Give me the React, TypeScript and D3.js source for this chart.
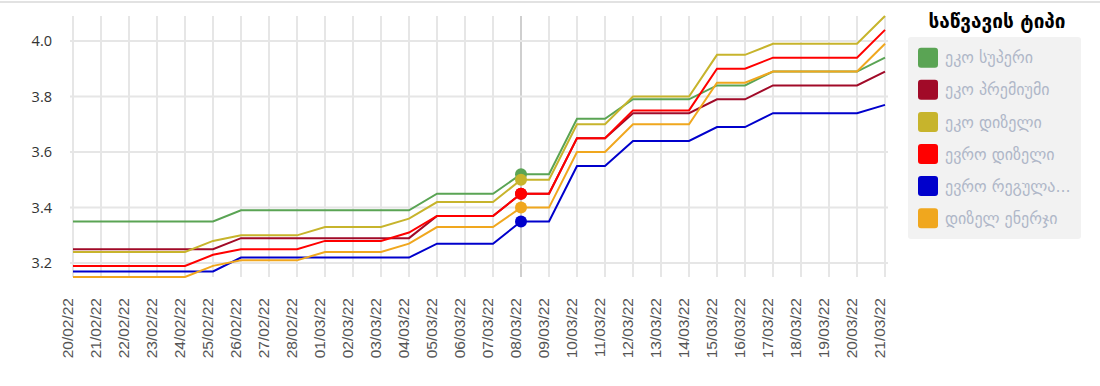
import { useEffect, useRef } from "react";
import * as d3 from "d3";

const dates = [
  "20/02/22", "21/02/22", "22/02/22", "23/02/22", "24/02/22", "25/02/22", "26/02/22", "27/02/22",
  "28/02/22", "01/03/22", "02/03/22", "03/03/22", "04/03/22", "05/03/22", "06/03/22", "07/03/22",
  "08/03/22", "09/03/22", "10/03/22", "11/03/22", "12/03/22", "13/03/22", "14/03/22", "15/03/22",
  "16/03/22", "17/03/22", "18/03/22", "19/03/22", "20/03/22", "21/03/22",
];

const ecoSuper = [
  3.35, 3.35, 3.35, 3.35, 3.35, 3.35, 3.39, 3.39, 3.39, 3.39, 3.39, 3.39, 3.39, 3.45, 3.45, 3.45,
  3.52, 3.52, 3.72, 3.72, 3.79, 3.79, 3.79, 3.84, 3.84, 3.89, 3.89, 3.89, 3.89, 3.94,
];
const ecoPremium = [
  3.25, 3.25, 3.25, 3.25, 3.25, 3.25, 3.29, 3.29, 3.29, 3.29, 3.29, 3.29, 3.29, 3.37, 3.37, 3.37,
  3.45, 3.45, 3.65, 3.65, 3.74, 3.74, 3.74, 3.79, 3.79, 3.84, 3.84, 3.84, 3.84, 3.89,
];
const ecoDiesel = [
  3.24, 3.24, 3.24, 3.24, 3.24, 3.28, 3.3, 3.3, 3.3, 3.33, 3.33, 3.33, 3.36, 3.42, 3.42, 3.42,
  3.5, 3.5, 3.7, 3.7, 3.8, 3.8, 3.8, 3.95, 3.95, 3.99, 3.99, 3.99, 3.99, 4.09,
];
const euroDiesel = [
  3.19, 3.19, 3.19, 3.19, 3.19, 3.23, 3.25, 3.25, 3.25, 3.28, 3.28, 3.28, 3.31, 3.37, 3.37, 3.37,
  3.45, 3.45, 3.65, 3.65, 3.75, 3.75, 3.75, 3.9, 3.9, 3.94, 3.94, 3.94, 3.94, 4.04,
];
const euroRegular = [
  3.17, 3.17, 3.17, 3.17, 3.17, 3.17, 3.22, 3.22, 3.22, 3.22, 3.22, 3.22, 3.22, 3.27, 3.27, 3.27,
  3.35, 3.35, 3.55, 3.55, 3.64, 3.64, 3.64, 3.69, 3.69, 3.74, 3.74, 3.74, 3.74, 3.77,
];
const dieselEnergy = [
  3.15, 3.15, 3.15, 3.15, 3.15, 3.19, 3.21, 3.21, 3.21, 3.24, 3.24, 3.24, 3.27, 3.33, 3.33, 3.33,
  3.4, 3.4, 3.6, 3.6, 3.7, 3.7, 3.7, 3.85, 3.85, 3.89, 3.89, 3.89, 3.89, 3.99,
];

const seriesNames = ["ეკო სუპერი", "ეკო პრემიუმი", "ეკო დიზელი", "ევრო დიზელი", "ევრო რეგულა...", "დიზელ ენერჯი"];
const seriesValues = [ecoSuper, ecoPremium, ecoDiesel, euroDiesel, euroRegular, dieselEnergy];
const colors = ["#5aa454", "#a10a28", "#c7b42c", "#ff0000", "#0000cc", "#f0a71e"];
const yTicks = [3.2, 3.4, 3.6, 3.8, 4.0];
const legendTitle = "საწვავის ტიპი";
const activeDate = "08/03/22";

const App = () => {
  const svgRef = useRef<SVGSVGElement>(null);

  useEffect(() => {
    const width = 1100, height = 386;
    const top = 16, bottom = 277, left = 73, right = 885;

    const svg = d3.select(svgRef.current);
    svg.selectAll("*").remove();
    svg.attr("width", width).attr("height", height);

    // thin separator at the very top of the page
    svg.append("rect").attr("x", 0).attr("y", 1).attr("width", width).attr("height", 2).attr("fill", "#e2e2e2");

    const allValues = seriesValues.flat();
    const x = d3.scalePoint().domain(dates).range([left, right]);
    const y = d3.scaleLinear().domain([d3.min(allValues), d3.max(allValues)]).range([bottom, top]);

    // grid
    const grid = svg.append("g");
    grid.selectAll("line.v")
      .data(dates)
      .enter()
      .append("line")
      .attr("x1", d => x(d)).attr("x2", d => x(d))
      .attr("y1", top).attr("y2", bottom)
      .attr("stroke", d => (d === activeDate ? "#cfcfcf" : "#e6e6e6"))
      .attr("stroke-width", 2);

    grid.selectAll("line.h")
      .data(yTicks)
      .enter()
      .append("line")
      .attr("x1", left - 3).attr("x2", right + 3)
      .attr("y1", d => y(d)).attr("y2", d => y(d))
      .attr("stroke", "#e6e6e6")
      .attr("stroke-width", 2);

    // y labels
    svg.append("g")
      .selectAll("text")
      .data(yTicks)
      .enter()
      .append("text")
      .attr("x", 52)
      .attr("y", d => y(d))
      .attr("dy", "0.35em")
      .attr("text-anchor", "end")
      .attr("font-family", "'Open Sans', sans-serif")
      .attr("font-size", 14.5)
      .attr("fill", "#333")
      .text(d => d3.format(".1f")(d));

    // x labels, rotated
    svg.append("g")
      .selectAll("text")
      .data(dates)
      .enter()
      .append("text")
      .attr("transform", d => `translate(${x(d)},298) rotate(-90)`)
      .attr("text-anchor", "end")
      .attr("font-family", "'Liberation Sans', Arial, sans-serif")
      .attr("font-size", 15.5)
      .attr("fill", "#555")
      .text(d => d);

    // lines
    const line = d3.line<number>()
      .x((_, i) => x(dates[i]))
      .y(d => y(d));

    seriesValues.forEach((vals, s) => {
      svg.append("path")
        .datum(vals)
        .attr("d", line)
        .attr("fill", "none")
        .attr("stroke", colors[s])
        .attr("stroke-width", 2);
    });

    // hover markers on the active date
    const ai = dates.indexOf(activeDate);
    seriesValues.forEach((vals, s) => {
      svg.append("circle")
        .attr("cx", x(activeDate))
        .attr("cy", y(vals[ai]))
        .attr("r", 6)
        .attr("fill", colors[s]);
    });

    // legend
    const legend = svg.append("g");
    legend.append("text")
      .attr("x", 997).attr("y", 21)
      .attr("dy", "0.35em")
      .attr("text-anchor", "middle")
      .attr("font-family", "'DejaVu Sans', sans-serif")
      .attr("font-weight", "bold")
      .attr("font-size", 19)
      .attr("fill", "#000")
      .text(legendTitle);

    legend.append("rect")
      .attr("x", 908).attr("y", 37)
      .attr("width", 173).attr("height", 202)
      .attr("rx", 3)
      .attr("fill", "#f2f2f2");

    const items = legend.selectAll("g.item")
      .data(seriesNames)
      .enter()
      .append("g")
      .attr("transform", (_, i) => `translate(918,${57.7 + i * 32.1})`);

    items.append("rect")
      .attr("x", 0).attr("y", -10)
      .attr("width", 20).attr("height", 20)
      .attr("rx", 3)
      .attr("fill", (_, i) => colors[i]);

    items.append("text")
      .attr("x", 27).attr("y", 0)
      .attr("dy", "0.35em")
      .attr("font-family", "'DejaVu Sans', sans-serif")
      .attr("font-size", 16)
      .attr("fill", "#afb7c8")
      .text(d => d);
  }, []);

  return <svg ref={svgRef} style={{ position: "absolute", left: 0, top: 0 }} />;
};

export default App;
